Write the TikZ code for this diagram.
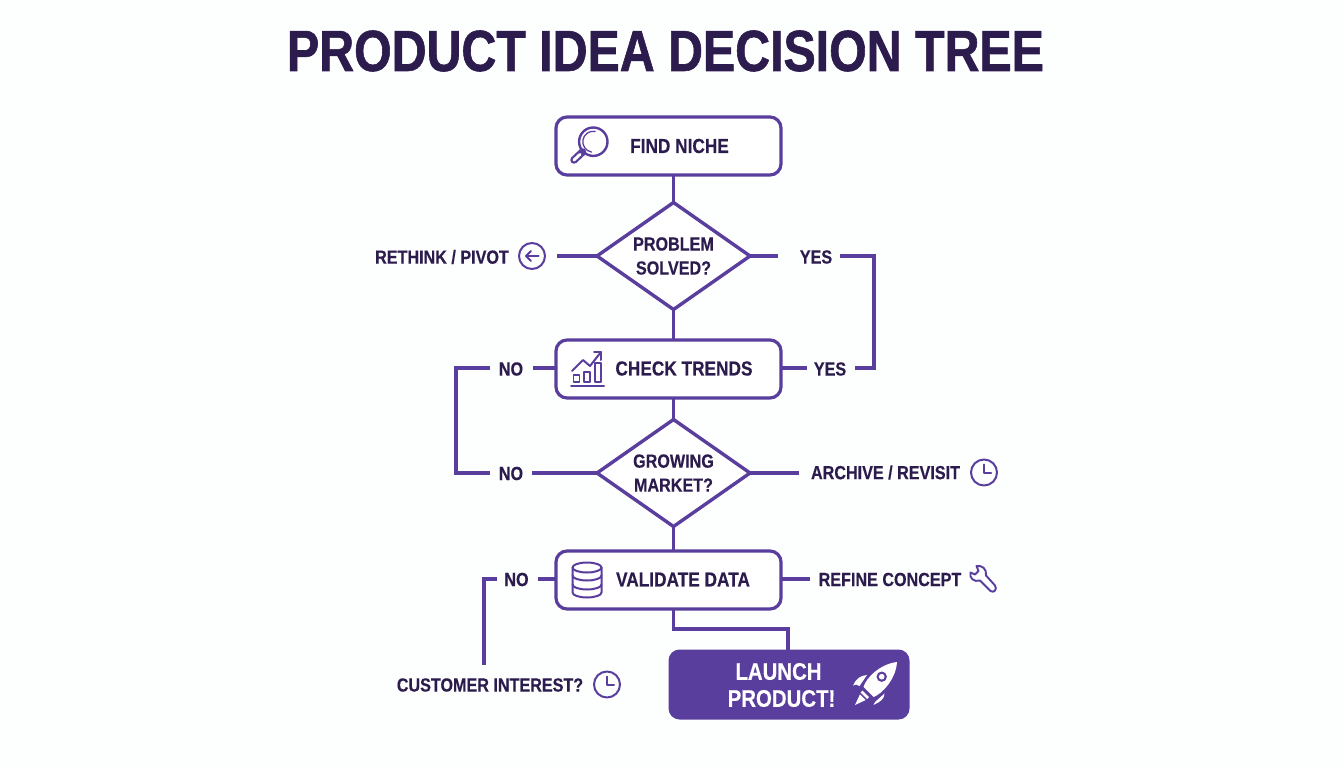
\documentclass[tikz,border=0pt]{standalone}
\usepackage{fontspec}
\usetikzlibrary{shapes.geometric}
\setmainfont{Liberation Sans}[BoldFont={Liberation Sans Bold}]
\newfontfamily\lblfont{Liberation Sans Bold}[FakeStretch=0.85,FakeBold=0.3]
\newfontfamily\ttlfont{Liberation Sans Bold}[FakeStretch=0.833,FakeBold=1]
\definecolor{pur}{HTML}{5A3E9E}
\definecolor{ink}{HTML}{2C1B4D}
\definecolor{pg}{HTML}{FDFEFE}
\tikzset{
 x=1pt,y=-1pt,
 wire/.style={draw=pur,line width=3.5pt,line join=miter},
 thin icon/.style={draw=pur,line width=2pt,line cap=round,line join=round},
 stepbox/.style={draw=pur,line width=3.2pt,rounded corners=11pt,fill=white,minimum width=225pt,minimum height=58pt,inner sep=0pt,outer sep=0pt},
 choice/.style={draw=pur,line width=3.4pt,shape=diamond,aspect=1.43,fill=white,minimum width=153pt,minimum height=107pt,inner sep=0pt,outer sep=0pt,align=center,text=ink,font=\lblfont\fontsize{19}{24}\selectfont},
 lbl/.style={text=ink,font=\lblfont\fontsize{19}{22}\selectfont,inner sep=0pt,anchor=center},
 boxtxt/.style={text=ink,font=\lblfont\fontsize{20.3}{24}\selectfont,inner sep=0pt},
}
\begin{document}
\begin{tikzpicture}
\path[use as bounding box,fill=pg] (0,0) rectangle (1344,768);
\node[text=ink,font=\ttlfont\fontsize{58}{60}\selectfont,inner sep=0pt] (title) at (665.5,51) {PRODUCT IDEA DECISION TREE};
% main nodes
\node[stepbox] (find) at (668.5,146) {};
\node[choice] (d1) at (673.5,256) {PROBLEM\\SOLVED?};
\node[stepbox] (check) at (668.5,369) {};
\node[choice] (d2) at (673.5,473) {GROWING\\MARKET?};
\node[stepbox] (valid) at (668.5,580) {};
\node[draw=none,fill=pur,rounded corners=11pt,minimum width=241pt,minimum height=70pt,inner sep=0pt,outer sep=0pt] (launch) at (789,684.5) {};
\node[boxtxt] (findt) at (679.5,146) {FIND NICHE};
\node[boxtxt] (checkt) at (684,368.5) {CHECK TRENDS};
\node[boxtxt] (validt) at (683,579.5) {VALIDATE DATA};
\node[text=white,font=\lblfont\fontsize{24}{27}\selectfont,inner sep=0pt,align=center] (launcht) at (781.5,685) {LAUNCH\kern6pt\\PRODUCT!};
% labels
\node[lbl] (rethink) at (442,257) {RETHINK / PIVOT};
\node[lbl] (yes1) at (816,257) {YES};
\node[lbl] (yes2) at (830,369) {YES};
\node[lbl] (no1) at (511,369) {NO};
\node[lbl] (no2) at (511,473.5) {NO};
\node[lbl] (archive) at (885.5,472.5) {ARCHIVE / REVISIT};
\node[lbl] (refine) at (890,579.5) {REFINE CONCEPT};
\node[lbl] (no3) at (516.5,579.5) {NO};
\node[lbl] (cust) at (490,685) {CUSTOMER INTEREST?};
% free ends
\coordinate (g1) at (557,256);
\coordinate (g2) at (778,256);
\coordinate (g3) at (840,256);
\coordinate (r1) at (874,256);
\coordinate (r2) at (874,368);
\coordinate (g4) at (855,368);
\coordinate (g5) at (807,368);
\coordinate (g6) at (533,368);
\coordinate (g7) at (490,368);
\coordinate (l1) at (456,368);
\coordinate (l2) at (456,473);
\coordinate (g8) at (490,473);
\coordinate (g9) at (532,473);
\coordinate (g10) at (799,473);
\coordinate (g11) at (810,579);
\coordinate (g12) at (538,579);
\coordinate (g13) at (497,579);
\coordinate (l3) at (484,579);
\coordinate (l4) at (484,665);
\coordinate (v1) at (673.5,629);
\coordinate (v2) at (788,629);
% connectors
\draw[wire] (find.south -| d1.north) -- (d1.north);
\draw[wire] (d1.south) -- (check.north -| d1.south);
\draw[wire] (check.south -| d2.north) -- (d2.north);
\draw[wire] (d2.south) -- (valid.north -| d2.south);
\draw[wire] (d1.west) -- (g1);
\draw[wire] (d1.east) -- (g2);
\draw[wire] (g3) -- (r1) -- (r2) -- (g4);
\draw[wire] (check.east |- g5) -- (g5);
\draw[wire] (check.west |- g6) -- (g6);
\draw[wire] (g7) -- (l1) -- (l2) -- (g8);
\draw[wire] (g9) -- (d2.west);
\draw[wire] (d2.east) -- (g10);
\draw[wire] (valid.east |- g11) -- (g11);
\draw[wire] (valid.west |- g12) -- (g12);
\draw[wire] (g13) -- (l3) -- (l4);
\draw[wire] (valid.south -| v1) -- (v1) -- (v2) -- (launch.north -| v2);
% magnifier
\draw[thin icon,line width=2.4pt] (593.3,141.7) circle (14.2);
\draw[thin icon,line width=1.3pt] (593.3,141.7) ++(100:-10.5) arc (280:100:10.5);
\draw[pur,line width=7.5pt,line cap=round] (574,160) -- (582.5,152);
\draw[white,line width=3pt,line cap=round] (574,160) -- (580,154.4);
% trends
\draw[thin icon] (571,386) -- (604,386);
\draw[thin icon,line width=1.8pt] (573.5,375) rectangle (579.5,382);
\draw[thin icon,line width=1.8pt] (584,372) rectangle (590,382);
\draw[thin icon,line width=1.8pt] (595,363) rectangle (601,382);
\draw[thin icon] (572,371) -- (583,360) -- (590,366) -- (601,352);
\draw[thin icon] (594,352) -- (601,352) -- (601,360);
% database
\draw[thin icon] (587,567.5) ellipse (14.5 and 5);
\draw[thin icon] (572.5,567.5) -- (572.5,592.5) arc (180:0:14.5 and 5) -- (601.5,567.5);
\draw[thin icon] (572.5,575.5) arc (180:0:14.5 and 5);
\draw[thin icon] (572.5,584.5) arc (180:0:14.5 and 5);
% arrow circle
\draw[thin icon] (532,256) circle (13);
\draw[thin icon] (538.5,256) -- (526,256);
\draw[thin icon] (531,251) -- (526,256) -- (531,261);
% clocks
\draw[thin icon] (984,472.5) circle (13);
\draw[thin icon] (984,464.5) -- (984,473) -- (991,473);
\draw[thin icon] (607,684.5) circle (13);
\draw[thin icon] (607,676.5) -- (607,685) -- (614,685);
% wrench
\draw[thin icon,line width=1.9pt] (976.5,566) .. controls (982,565) and (987,569) .. (986,575.5) -- (995,585.5) .. controls (997.5,589) and (994,593.5) .. (990.5,591) -- (980,580.5) .. controls (974,582.5) and (969,578) .. (970.5,572.5) -- (975,574.5) -- (978.5,571) -- cycle;
% rocket
\fill[white] (863.5,687) .. controls (866,678) and (880,664) .. (897,662) .. controls (896,679) and (882,694) .. (873.5,697) -- cycle;
\fill[pur] (881.7,676.7) circle (5.2);
\fill[white] (881.7,676.7) circle (2.8);
\fill[white] (853,685.5) .. controls (856,679) and (860,675.5) .. (867,675) -- (859.5,686) -- (856,684.5) -- cycle;
\fill[white] (873.5,705) .. controls (880,702) and (884.5,699) .. (884.5,693.5) -- (875,702) -- cycle;
\draw[white,line width=2.8pt] (861.5,691.5) -- (868,698);
\fill[white] (855,705) -- (860,694.3) -- (865.7,700) -- cycle;
\end{tikzpicture}
\end{document}
